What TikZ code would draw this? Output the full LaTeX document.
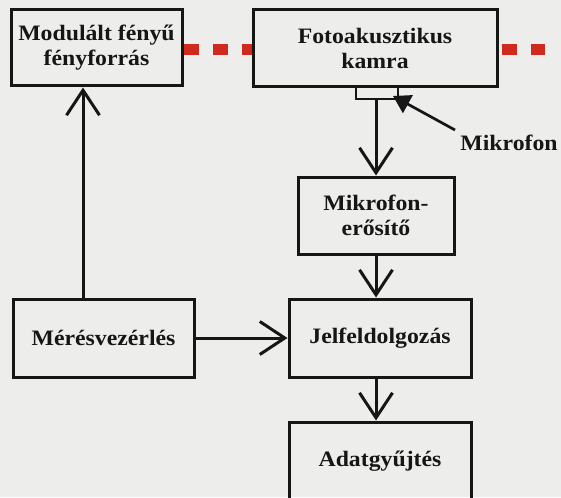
\documentclass[tikz,border=0pt]{standalone}
\usepackage{fontspec}
\setmainfont{Liberation Serif}[FakeStretch=1.08]
\usetikzlibrary{arrows.meta}
\definecolor{bg}{RGB}{237,237,235}
\definecolor{dashred}{RGB}{208,42,30}
\definecolor{ink}{RGB}{22,22,22}
\begin{document}
\begin{tikzpicture}[x=1pt,y=-1pt,
  box/.style={draw=ink,line width=3pt,inner sep=0pt,align=center,text=ink,
    font=\bfseries\fontsize{22}{25}\selectfont},
  lbl/.style={inner sep=2pt,text=ink,font=\bfseries\fontsize{22}{25}\selectfont},
  arr/.style={draw=ink,line width=3pt,-{Straight Barb[length=25pt,width=33pt]}},
  micarr/.style={draw=ink,line width=2.7pt,-{Triangle[length=17pt,width=20pt]}},
  bracket/.style={draw=ink,line width=2.5pt},
  reddash/.style={draw=dashred,line width=11pt,dash pattern=on 15pt off 14pt}]
\fill[bg] (0,0) rectangle (561,497);
\useasboundingbox (0,0) rectangle (561,497);
\node[box,minimum width=171pt,minimum height=76pt] (src) at (96.5,48) {Modulált fényű\\fényforrás};
\node[box,minimum width=244pt,minimum height=77pt] (cam) at (375,48.5) {Fotoakusztikus\\kamra};
\node[box,minimum width=156pt,minimum height=77pt] (amp) at (376,215.5) {Mikrofon-\\erősítő};
\node[box,minimum width=182pt,minimum height=78pt] (sig) at (380,338) {Jelfeldolgozás};
\node[box,minimum width=181pt,minimum height=78pt] (ctl) at (103.5,338) {Mérésvezérlés};
\node[box,minimum width=182pt,minimum height=78pt] (dat) at (380,461) {Adatgyűjtés};
\node[lbl] (mic) at (509,143) {Mikrofon};
\coordinate (mL) at (356,99);
\coordinate (mR) at (398,99);
\coordinate (mM) at (376,99);
\coordinate (mT) at (393,96);
\coordinate (mS) at (455,130);
\coordinate (upx) at (83,0);
\coordinate (dashend) at (545,50);
\draw[bracket] (cam.south -| mL) -- (mL) -- (mR) -- (cam.south -| mR);
\draw[arr] (mM) -- (amp.north);
\draw[arr] (amp.south) -- (sig.north -| amp.south);
\draw[arr] (sig.south -| amp.south) -- (dat.north -| amp.south);
\draw[arr] (ctl.north -| upx) -- (src.south -| upx);
\draw[arr] (ctl.east) -- (sig.west);
\draw[micarr] (mS) -- (mT);
\draw[reddash] ([yshift=-2pt]src.east) -- ([yshift=-1.5pt]cam.west);
\draw[reddash] ([xshift=3pt,yshift=-1.5pt]cam.east) -- (dashend);
\end{tikzpicture}
\end{document}
